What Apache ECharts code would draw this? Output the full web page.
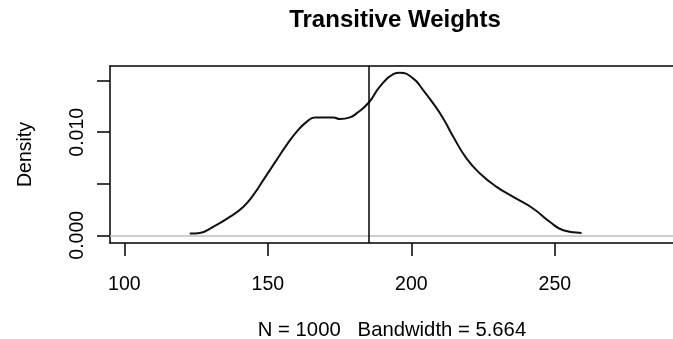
<!DOCTYPE html>
<html>
<head>
<meta charset="utf-8">
<script src="https://cdn.jsdelivr.net/npm/echarts@6/dist/echarts.min.js"></script>
<style>
  html, body { margin: 0; padding: 0; background: #fff; }
  #chart { width: 673px; height: 339px; }
</style>
</head>
<body>
<div id="chart"></div>
<script>
// density estimate
const densX = [122.8, 126.3, 130.9, 136.7, 141.4, 144.9, 148.4, 153.0, 156.5, 160.0, 163.5, 166.4,
  172.8, 175.1, 178.6, 180.9, 185.1, 189.0, 193.7, 196.0, 200.6, 204.1, 207.6, 211.1, 214.6,
  219.2, 223.9, 229.7, 235.5, 242.4, 248.3, 252.9, 259.3];
const densY = [0.00017, 0.00023, 0.00081, 0.00178, 0.00275, 0.00389, 0.00535, 0.00729, 0.00875,
  0.01004, 0.01101, 0.01144, 0.01144, 0.01128, 0.01144, 0.01183, 0.01286, 0.01442, 0.01565,
  0.01578, 0.01523, 0.01410, 0.01280, 0.01134, 0.00956, 0.00746, 0.00600, 0.00470, 0.00372,
  0.00260, 0.00129, 0.00049, 0.00022];

const xTicks = [100, 150, 200, 250];
const yTicks = [0, 0.005, 0.010, 0.015];
const yLabels = [0, 0.010];
const markX = 185;

const font = "'Liberation Sans', Arial, sans-serif";
const frame = { show: true, onZero: false, lineStyle: { color: "#000", width: 1.5 } };

const chart = echarts.init(document.getElementById("chart"), null, { renderer: "canvas" });

chart.setOption({
  backgroundColor: "#fff",
  animation: false,
  title: {
    text: "Transitive Weights",
    left: 390,
    textAlign: "center",
    top: 3,
    textStyle: { fontFamily: font, fontSize: 24, fontWeight: "bold", color: "#000" },
  },
  grid: {
    left: 110,
    top: 66,
    right: -5,
    bottom: 96,
    outerBoundsMode: "none",
    containLabel: false,
    show: false,
  },
  xAxis: [
    {
      type: "value",
      min: 95,
      max: 292.9,
      name: "N = 1000   Bandwidth = 5.664",
      nameLocation: "middle",
      nameGap: 77,
      nameTextStyle: { fontFamily: font, fontSize: 20.3, color: "#000", padding: [0, 4, 0, 0] },
      axisLine: frame,
      splitLine: { show: false },
      axisTick: {
        show: true,
        length: 13,
        customValues: xTicks,
        lineStyle: { color: "#000", width: 1.5 },
      },
      axisLabel: {
        customValues: xTicks,
        margin: 32,
        fontFamily: font,
        fontSize: 19.5,
        color: "#000",
      },
    },
    {
      // top edge of the box
      type: "value",
      position: "top",
      min: 95,
      max: 292.9,
      axisLine: frame,
      axisTick: { show: false },
      axisLabel: { show: false },
      splitLine: { show: false },
    },
  ],
  yAxis: {
    type: "value",
    min: -0.00075,
    max: 0.01643,
    name: "Density",
    nameLocation: "middle",
    nameRotate: 90,
    nameGap: 74,
    nameTextStyle: { fontFamily: font, fontSize: 19.5, color: "#000" },
    axisLine: frame,
    splitLine: { show: false },
    axisTick: {
      show: true,
      length: 13,
      customValues: yTicks,
      lineStyle: { color: "#000", width: 1.5 },
    },
    axisLabel: {
      customValues: yLabels,
      rotate: 90,
      margin: 22,
      fontFamily: font,
      fontSize: 19.5,
      color: "#000",
      formatter: (v) => v.toFixed(3),
    },
  },
  series: [
    {
      type: "line",
      data: densX.map((x, i) => [x, densY[i]]),
      smooth: 0.5,
      showSymbol: false,
      lineStyle: { color: "#111", width: 2 },
      markLine: {
        silent: true,
        symbol: "none",
        label: { show: false },
        data: [
          { yAxis: 0, lineStyle: { color: "#bebebe", width: 1.5, type: "solid" } },
          { xAxis: markX, lineStyle: { color: "#000", width: 1.5, type: "solid" } },
        ],
      },
    },
  ],
});
</script>
</body>
</html>
